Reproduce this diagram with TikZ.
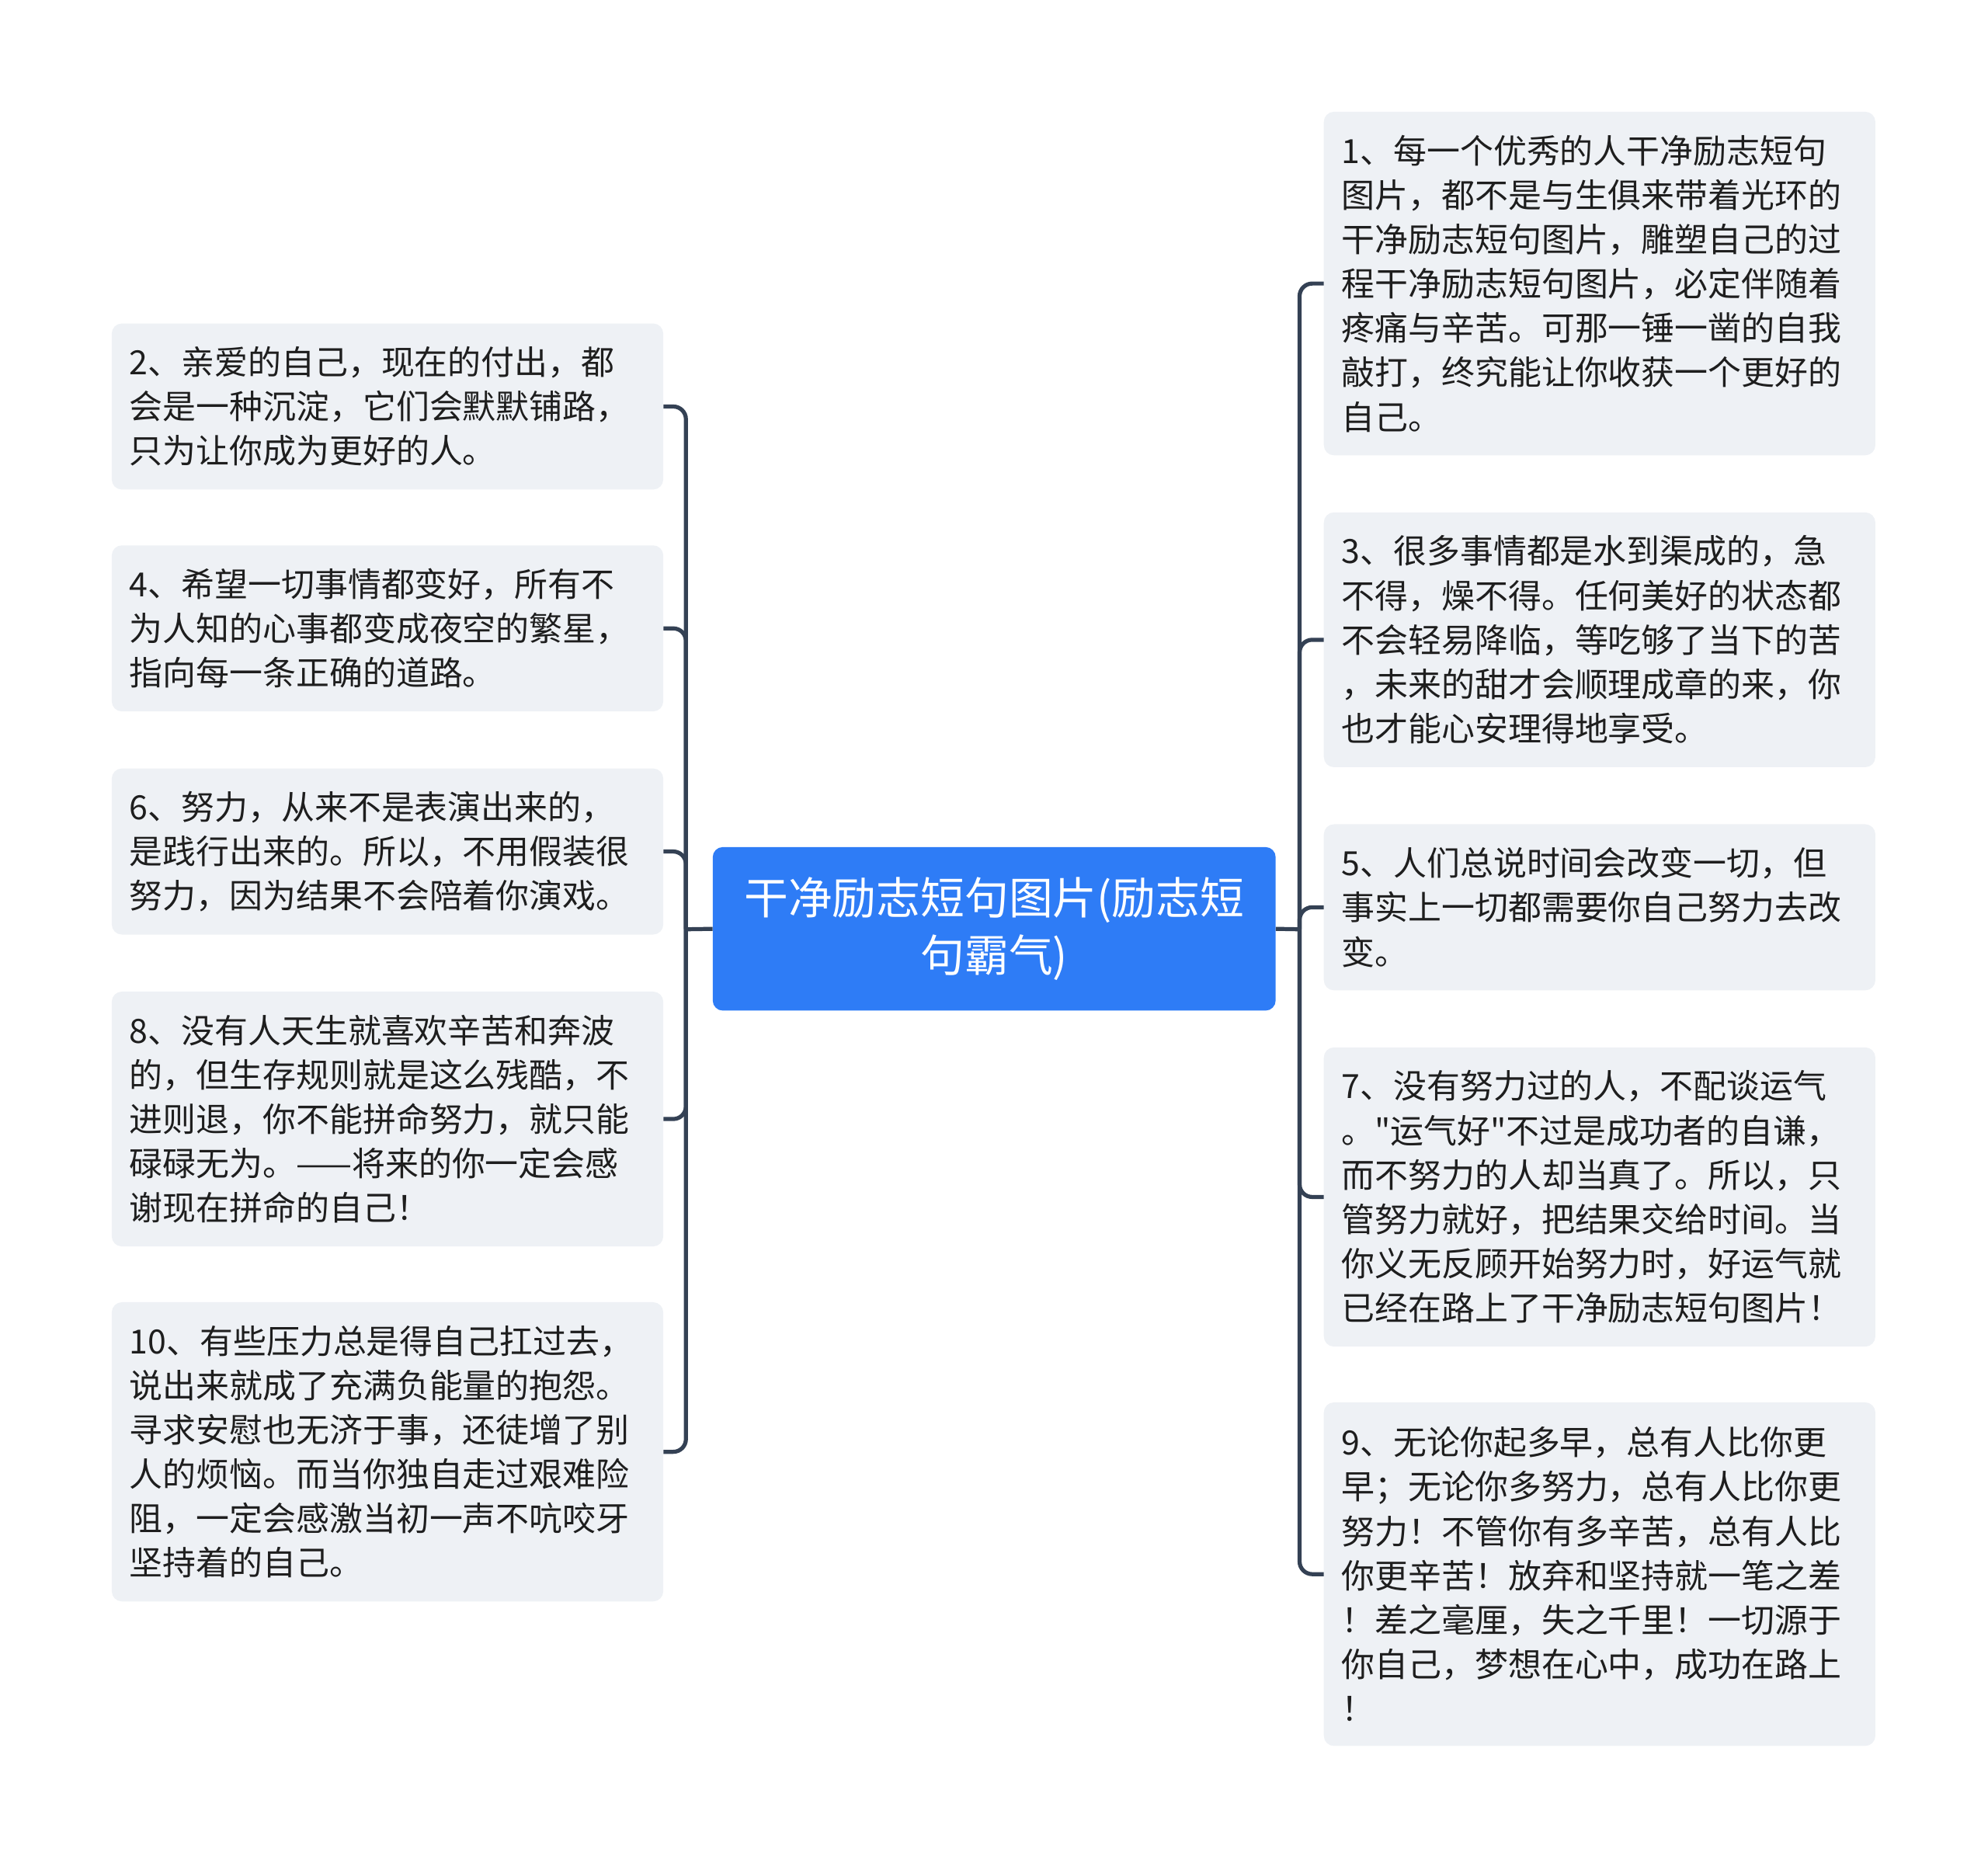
\documentclass[tikz,border=0pt]{standalone}
\usepackage{fontspec}
\newfontfamily\cjkfont{Noto Sans CJK SC}
\definecolor{leafgray}{HTML}{EEF1F5}
\definecolor{linedark}{HTML}{344154}
\definecolor{rootblue}{HTML}{2E7CF6}
\definecolor{inkdark}{HTML}{1E1E1E}
\begin{document}
\begin{tikzpicture}[x=0.5mm,y=-0.5mm,
  leaf/.style={fill=leafgray, rounded corners=4mm, anchor=north west, text width=203.5mm,
    inner xsep=7mm, inner ysep=0pt, align=left, text=inkdark,
    font=\cjkfont\fontsize{37.4pt}{49.8pt}\selectfont},
  root/.style={fill=rootblue, rounded corners=4mm, anchor=north west, minimum width=222mm,
    minimum height=64.5mm, align=center, text=white, font=\cjkfont\fontsize{49.5pt}{64pt}\selectfont},
  link/.style={draw=linedark, line width=1.6mm, rounded corners=5mm}]
\useasboundingbox (0,0) rectangle (1568,1466);
% centre
\node[root] (c) at (562,668) {干净励志短句图片(励志短\\句霸气)};
% left side
\node[leaf, minimum height=65.5mm] (n2) at (88,255) {2、亲爱的自己，现在的付出，都\\会是一种沉淀，它们会默默铺路，\\只为让你成为更好的人。};
\node[leaf, minimum height=65.5mm] (n4) at (88,430) {4、希望一切事情都变好，所有不\\为人知的心事都变成夜空的繁星，\\指向每一条正确的道路。};
\node[leaf, minimum height=65.5mm] (n6) at (88,606) {6、努力，从来不是表演出来的，\\是践行出来的。所以，不用假装很\\努力，因为结果不会陪着你演戏。};
\node[leaf, minimum height=100.5mm] (n8) at (88,782) {8、没有人天生就喜欢辛苦和奔波\\的，但生存规则就是这么残酷，不\\进则退，你不能拼命努力，就只能\\碌碌无为。——将来的你一定会感\\谢现在拼命的自己！};
\node[leaf, minimum height=118mm] (n10) at (88,1027) {10、有些压力总是得自己扛过去，\\说出来就成了充满负能量的抱怨。\\寻求安慰也无济于事，还徒增了别\\人的烦恼。而当你独自走过艰难险\\阻，一定会感激当初一声不吭咬牙\\坚持着的自己。};
% right side
\node[leaf, minimum height=135.5mm] (n1) at (1044,88) {1、每一个优秀的人干净励志短句\\图片，都不是与生俱来带着光环的\\干净励志短句图片，雕塑自己的过\\程干净励志短句图片，必定伴随着\\疼痛与辛苦。可那一锤一凿的自我\\敲打，终究能让你收获一个更好的\\自己。};
\node[leaf, minimum height=100.5mm] (n3) at (1044,404) {3、很多事情都是水到渠成的，急\\不得，燥不得。任何美好的状态都\\不会轻易降临，等吃够了当下的苦\\，未来的甜才会顺理成章的来，你\\也才能心安理得地享受。};
\node[leaf, minimum height=65.5mm] (n5) at (1044,650) {5、人们总说时间会改变一切，但\\事实上一切都需要你自己努力去改\\变。};
\node[leaf, minimum height=118mm] (n7) at (1044,826) {7、没有努力过的人，不配谈运气\\。"运气好"不过是成功者的自谦，\\而不努力的人却当真了。所以，只\\管努力就好，把结果交给时间。当\\你义无反顾开始努力时，好运气就\\已经在路上了干净励志短句图片！};
\node[leaf, minimum height=135.5mm] (n9) at (1044,1106) {9、无论你起多早，总有人比你更\\早；无论你多努力，总有人比你更\\努力！不管你有多辛苦，总有人比\\你更辛苦！放弃和坚持就一笔之差\\！差之毫厘，失之千里！一切源于\\你自己，梦想在心中，成功在路上\\！};
% connectors
\coordinate (lj) at (541,733);
\coordinate (rj) at (1025,733);
\draw[link] (c.west) -- (lj);
\draw[link] (c.east) -- (rj);
\foreach \n in {n2,n4,n6,n8,n10}
  \draw[link] (lj) |- (\n.east);
\foreach \n in {n1,n3,n5,n7,n9}
  \draw[link] (rj) |- (\n.west);
\end{tikzpicture}
\end{document}
